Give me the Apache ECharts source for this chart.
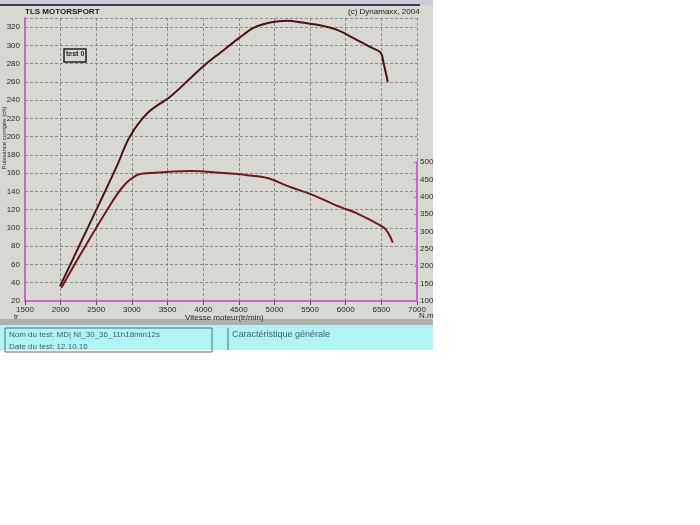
<!DOCTYPE html>
<html><head><meta charset="utf-8">
<script src="https://cdn.jsdelivr.net/npm/echarts@6/dist/echarts.min.js"></script>
<style>html,body{margin:0;padding:0;background:#fff}#c{width:700px;height:525px}</style>
</head><body><div id="c"></div>
<script>
// Data
var rpmPower = [1990, 2270, 2550, 2790, 2970, 3220, 3540, 3820, 4030, 4240, 4520, 4700, 4940, 5180, 5400, 5640, 5880, 6110, 6350, 6490, 6530, 6590];
var powerValues = [36, 82, 128, 168, 200, 226, 244, 264, 279, 292, 309, 319, 325, 327, 325, 322, 317, 308, 298, 292, 281, 260];
var rpmTorque = [2010, 2310, 2650, 2870, 3070, 3250, 3820, 4280, 4620, 4900, 5220, 5550, 5930, 6160, 6530, 6600, 6660];
var torqueValues = [138, 245, 361, 428, 462, 468, 474, 468, 462, 454, 428, 404, 370, 352, 312, 294, 268];
var xTicks = [1500, 2000, 2500, 3000, 3500, 4000, 4500, 5000, 5500, 6000, 6500, 7000];
var leftTicks = [20, 40, 60, 80, 100, 120, 140, 160, 180, 200, 220, 240, 260, 280, 300, 320];
var rightTicks = [100, 150, 200, 250, 300, 350, 400, 450, 500];

var pink = '#c66ac6';
var font = 'Liberation Sans';
function pairs(xs, ys){ return xs.map(function(x,i){ return [x, ys[i]]; }); }

var chart = echarts.init(document.getElementById('c'), null, {renderer:'canvas'});
var labelStyle = {fontFamily: font, fontSize: 8, color: '#2a2a2a'};
chart.setOption({
  backgroundColor: '#ffffff',
  animation: false,
  grid: [
    {left: 25, right: 283, top: 18, bottom: 224, show: false},
    {left: 25, right: 283, top: 162, bottom: 224, show: false}
  ],
  xAxis: [
    {type: 'value', gridIndex: 0, min: 1500, max: 7000, interval: 500,
     axisLine: {lineStyle: {color: pink, width: 2}},
     axisTick: {show: true, inside: false, length: 4, lineStyle: {color: '#7a3a7a'}},
     axisLabel: Object.assign({margin: 5, formatter: function(v){ return xTicks.indexOf(v) >= 0 ? String(v) : ''; }}, labelStyle),
     splitLine: {show: true, lineStyle: {color: '#777', type: [3, 2], width: 0.8}}},
    {type: 'value', gridIndex: 1, min: 1500, max: 7000, show: false}
  ],
  yAxis: [
    {type: 'value', gridIndex: 0, min: 20, max: 330, interval: 20,
     axisLine: {show: true, lineStyle: {color: pink, width: 2}},
     axisTick: {show: false},
     axisLabel: Object.assign({margin: 5, formatter: function(v){ return leftTicks.indexOf(v) >= 0 ? String(v) : ''; }}, labelStyle),
     splitLine: {show: true, lineStyle: {color: '#777', type: [3, 2], width: 0.8}}},
    {type: 'value', gridIndex: 1, position: 'right', min: 100, max: 500, interval: 50,
     axisLine: {show: true, lineStyle: {color: pink, width: 2}},
     axisTick: {show: true, length: 3, inside: true, lineStyle: {color: pink}},
     axisLabel: Object.assign({margin: 3, formatter: function(v){ return rightTicks.indexOf(v) >= 0 ? String(v) : ''; }}, labelStyle),
     splitLine: {show: false}}
  ],
  series: [
    {type: 'line', xAxisIndex: 0, yAxisIndex: 0, data: pairs(rpmPower, powerValues),
     smooth: 0.35, showSymbol: false, clip: false,
     lineStyle: {color: '#4a1416', width: 2}},
    {type: 'line', xAxisIndex: 1, yAxisIndex: 1, data: pairs(rpmTorque, torqueValues),
     smooth: 0.35, showSymbol: false, clip: false,
     lineStyle: {color: '#6e1a1c', width: 2}}
  ],
  graphic: [
    {type: 'rect', z: -10, shape: {x: 0, y: 0, width: 433, height: 350}, style: {fill: '#d7d8d1'}},
    {type: 'rect', z: -9, shape: {x: 0, y: 0, width: 433, height: 5}, style: {fill: '#c9cbd6'}},
    {type: 'rect', z: -9, shape: {x: 0, y: 4, width: 420, height: 2}, style: {fill: '#3a3e55'}},
    {type: 'rect', z: -9, shape: {x: 0, y: 319, width: 433, height: 6}, style: {fill: '#b0b1aa'}},
    {type: 'rect', z: -9, shape: {x: 0, y: 325, width: 433, height: 25}, style: {fill: '#b2f3f3'}},
    {type: 'rect', z: 5, shape: {x: 5, y: 328, width: 207, height: 24}, style: {fill: 'none', stroke: '#5a6a7a', lineWidth: 1}},
    {type: 'line', z: 5, shape: {x1: 228, y1: 328, x2: 228, y2: 350}, style: {stroke: '#5a6a7a', lineWidth: 1}},
    {type: 'text', z: 5, left: 9, top: 331, style: {text: 'Nom du test: MD| NI_30_36_11h18min12s', font: '8px ' + font, fill: '#4a5a70'}},
    {type: 'text', z: 5, left: 9, top: 343, style: {text: 'Date du test: 12.10.16', font: '8px ' + font, fill: '#4a5a70'}},
    {type: 'text', z: 5, left: 232, top: 330, style: {text: 'Caractéristique générale', font: '9px ' + font, fill: '#4a5a70'}},
    {type: 'text', z: 5, left: 25, top: 8, style: {text: 'TLS MOTORSPORT', font: 'bold 8px ' + font, fill: '#222'}},
    {type: 'text', z: 5, left: 348, top: 8, style: {text: '(c) Dynamaxx, 2004', font: '8px ' + font, fill: '#222'}},
    {type: 'rect', z: 5, shape: {x: 64, y: 49, width: 22, height: 13}, style: {fill: 'none', stroke: '#222', lineWidth: 1.5}},
    {type: 'text', z: 5, left: 66, top: 51, style: {text: 'test 0', font: 'bold 7px ' + font, fill: '#222'}},
    {type: 'text', z: 5, left: 185, top: 314, style: {text: 'Vitesse moteur(tr/min)', font: '8px ' + font, fill: '#2a2a2a'}},
    {type: 'text', z: 5, left: 419, top: 312, style: {text: 'N.m', font: '8px ' + font, fill: '#2a2a2a'}},
    {type: 'text', z: 5, left: 14, top: 314, style: {text: 'tr', font: '7px ' + font, fill: '#2a2a2a'}},
    {type: 'text', z: 5, x: 4, y: 138, rotation: Math.PI / 2, style: {text: 'Puissance corrigée (ch)', font: '6px ' + font, fill: '#2a2a2a', align: 'center', verticalAlign: 'middle'}}
  ]
});
</script></body></html>
